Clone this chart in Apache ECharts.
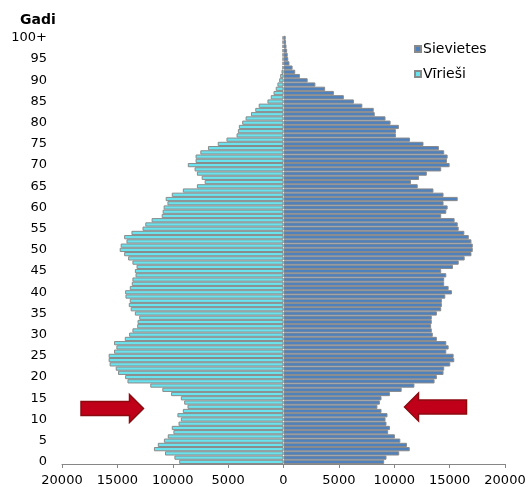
<!DOCTYPE html>
<html>
<head>
<meta charset="utf-8">
<script src="https://cdn.jsdelivr.net/npm/echarts@6/dist/echarts.min.js"></script>
<style>html,body{margin:0;padding:0;background:#fff;}#c{width:529px;height:487px;}</style>
</head>
<body>
<div id="c"></div>
<script>
// Ages 0..99 and 100+
var ageLabels = [];
for (var i = 0; i < 100; i++) ageLabels.push(String(i));
ageLabels.push('100+');

var xTicks = [-20000, -15000, -10000, -5000, 0, 5000, 10000, 15000, 20000];

// Sievietes (women), ages 0..100+
var women = [
  9090, 9300, 10450, 11400, 11150, 10550, 10060, 9450, 9610, 9300,
  9210, 9390, 8850, 8480, 8700, 8850, 9610, 10670, 11820, 13640,
  13850, 14450, 14510, 15060, 15420, 15360, 14700, 14910, 14700, 13850,
  13480, 13390, 13330, 13390, 13390, 13850, 14240, 14300, 14300, 14610,
  15210, 14910, 14510, 14510, 14700, 14240, 15300, 15820, 16360, 16970,
  17090, 17090, 16970, 16730, 16330, 15820, 15730, 15450, 14240, 14700,
  14820, 14450, 15730, 14450, 13540, 12120, 11510, 12240, 12940, 14240,
  15000, 14760, 14820, 14510, 14030, 12640, 11420, 10150, 10150, 10420,
  9670, 9210, 8240, 8150, 7120, 6360, 5450, 4550, 3760, 2880,
  2180, 1480, 1060, 820, 540, 430, 380, 330, 270, 230,
  200
];

// Vīrieši (men), ages 0..100+
var men = [
  9420, 9850, 10700, 11700, 11350, 10800, 10450, 9940, 10090, 9480,
  9270, 9580, 9090, 8670, 8970, 9270, 10150, 10940, 12030, 14090,
  14300, 14940, 15150, 15700, 15790, 15790, 15300, 15090, 15300, 14330,
  13940, 13640, 13210, 13180, 13030, 13420, 13800, 13970, 13880, 14270,
  14300, 13880, 13700, 13640, 13360, 13420, 13270, 13640, 14030, 14390,
  14790, 14700, 14180, 14390, 13730, 12730, 12480, 11910, 11000, 10910,
  10820, 10480, 10640, 10090, 9090, 7820, 7120, 7390, 7820, 8030,
  8640, 7940, 7940, 7510, 6820, 5940, 5150, 4240, 4120, 4030,
  3730, 3420, 2940, 2550, 2240, 1450, 1150, 900, 700, 550,
  390, 300, 180, 100, 90, 90, 90, 90, 90, 90,
  80
];

var FONT = '"DejaVu Sans", Verdana, sans-serif';
var chart = echarts.init(document.getElementById('c'), null, {renderer: 'canvas'});

var option = {
  animation: false,
  backgroundColor: '#ffffff',
  textStyle: {fontFamily: FONT},
  grid: {left: 62, right: 24, top: 35.8, bottom: 23, containLabel: false},
  legend: {
    orient: 'vertical',
    left: 414,
    top: 41,
    padding: 0,
    itemWidth: 6,
    itemHeight: 6,
    itemGap: 9,
    icon: 'rect',
    data: ['Sievietes', 'Vīrieši'],
    textStyle: {fontFamily: FONT, fontSize: 14, color: '#000', lineHeight: 16, padding: [0, 0, 0, -3]}
  },
  xAxis: {
    type: 'value',
    min: -20000,
    max: 20000,
    interval: 5000,
    axisLine: {show: true, lineStyle: {color: '#868686', width: 1}},
    axisTick: {show: true, length: 4, lineStyle: {color: '#868686'}},
    splitLine: {show: false},
    axisLabel: {
      fontFamily: FONT, fontSize: 13, color: '#000', margin: 10,
      formatter: function (v) { return xTicks.indexOf(v) >= 0 ? String(Math.abs(v)) : ''; }
    }
  },
  yAxis: {
    type: 'category',
    data: ageLabels,
    axisLine: {show: false},
    axisTick: {show: false},
    splitLine: {show: false},
    axisLabel: {
      fontFamily: FONT, fontSize: 13, color: '#000', margin: 15,
      interval: function (idx) { return idx % 5 === 0; }
    }
  },
  series: [
    {
      name: 'Sievietes',
      type: 'bar',
      stack: 'pop',
      data: women,
      barCategoryGap: '0%',
      itemStyle: {color: '#4F81BD', borderColor: '#8a8a8a', borderWidth: 1}
    },
    {
      name: 'Vīrieši',
      type: 'bar',
      stack: 'pop',
      data: men.map(function (v) { return -v; }),
      barCategoryGap: '0%',
      itemStyle: {color: '#69E4EE', borderColor: '#8a8a8a', borderWidth: 1}
    }
  ],
  graphic: [
    {
      type: 'text', left: 20, top: 13,
      style: {text: 'Gadi', font: 'bold 14px ' + FONT, fill: '#000'}
    },
    {
      type: 'polygon',
      shape: {points: [[81, 401.5], [129.5, 401.5], [129.5, 394.5], [143.5, 408.5], [129.5, 422.5], [129.5, 415.5], [81, 415.5]]},
      style: {fill: '#C00018', stroke: '#8B0A10', lineWidth: 1.5}
    },
    {
      type: 'polygon',
      shape: {points: [[466.5, 400], [418.5, 400], [418.5, 393], [404.5, 407], [418.5, 421], [418.5, 414], [466.5, 414]]},
      style: {fill: '#C00018', stroke: '#8B0A10', lineWidth: 1.5}
    }
  ]
};
chart.setOption(option);
</script>
</body>
</html>
